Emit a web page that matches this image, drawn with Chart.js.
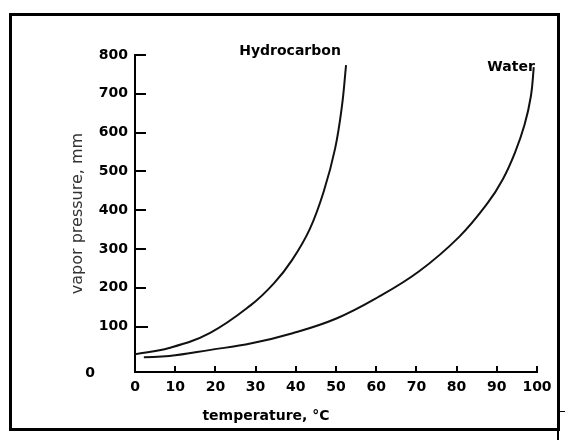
<!DOCTYPE html>
<html>
<head>
<meta charset="utf-8">
<script src="https://cdn.jsdelivr.net/npm/chart.js@4"></script>
<style>
  html, body { margin: 0; padding: 0; background: #fff; }
  #wrap { position: relative; width: 565px; height: 440px; overflow: hidden; }
  #frame { position: absolute; left: 9px; top: 13px; width: 551px; height: 418px;
           box-sizing: border-box; border: 3px solid #000; }
  #tail { position: absolute; left: 557px; top: 428px; width: 2px; height: 12px; background: #000; }
  #stub { position: absolute; left: 559px; top: 411px; width: 6px; height: 1px; background: #000; }
  canvas { position: absolute; left: 0; top: 0; }
</style>
</head>
<body>
<div id="wrap">
  <div id="frame"></div>
  <div id="tail"></div>
  <div id="stub"></div>
  <canvas id="vaporChart" width="565" height="440"></canvas>
</div>
<script>
// chart data
const hydroTemp = [0, 8.5, 18.7, 28.9, 34.6, 39.1, 43.5, 47, 49.8, 51.5, 52.5];
const hydroPressure = [29, 45, 84, 156, 212, 272, 352, 450, 560, 670, 774];
const waterTemp = [2.2, 8.5, 18.8, 29, 39.2, 50.1, 60.3, 70.6, 80.7, 87.7, 91.5, 94.5, 96.9, 98.5, 99.2];
const waterPressure = [21, 24, 40, 57, 83, 121, 175, 242, 332, 418, 480, 548, 620, 695, 769];
const xTicks = [0, 10, 20, 30, 40, 50, 60, 70, 80, 90, 100];
const yTicks = [0, 100, 200, 300, 400, 500, 600, 700, 800];
const seriesNames = ["Hydrocarbon", "Water"];
const xTitle = "temperature, \u00B0C";
const yTitle = "vapor pressure, mm";

const boldFont = "bold 14px 'DejaVu Sans'";

/**
 * Pairs two arrays into {x, y} points.
 */
function toPoints(xs, ys){
  return xs.map((x, i) => ({x: x, y: ys[i]}));
}

// draws inward ticks, the detached "0", the curve names and the x title
const extras = {
  id: "extras",
  afterDraw(chart){
    const ctx = chart.ctx;
    const xs = chart.scales.x;
    const ys = chart.scales.y;
    ctx.save();
    ctx.strokeStyle = "#000";
    ctx.lineWidth = 2;
    yTicks.forEach(v => {
      if(v == 0){return;}
      const py = Math.round(ys.getPixelForValue(v));
      ctx.beginPath();
      ctx.moveTo(xs.left, py);
      ctx.lineTo(xs.left + (v == 100 ? 13 : 11), py);
      ctx.stroke();
    });
    xTicks.forEach(v => {
      if(v == 0){return;}
      const px = Math.round(xs.getPixelForValue(v));
      ctx.beginPath();
      ctx.moveTo(px, ys.bottom);
      ctx.lineTo(px, ys.bottom - 6);
      ctx.stroke();
    });

    ctx.fillStyle = "#000";
    ctx.font = boldFont;
    ctx.textBaseline = "middle";
    ctx.textAlign = "center";
    ctx.fillText("0", 90, ys.bottom + 1);
    ctx.fillText(xTitle, 266, 416);

    const hMeta = chart.getDatasetMeta(0).data;
    const hEnd = hMeta[hMeta.length - 1];
    ctx.fillText(seriesNames[0], hEnd.x - 56, hEnd.y - 14);
    const wMeta = chart.getDatasetMeta(1).data;
    const wEnd = wMeta[wMeta.length - 1];
    ctx.textAlign = "right";
    ctx.fillText(seriesNames[1], wEnd.x + 1, wEnd.y);
    ctx.restore();
  }
};

const lineStyle = {
  borderColor: "#111",
  borderWidth: 2,
  pointRadius: 0,
  fill: false,
  tension: 0.4
};

new Chart(document.getElementById("vaporChart"), {
  type: "line",
  data: {
    datasets: [
      Object.assign({label: seriesNames[0], data: toPoints(hydroTemp, hydroPressure)}, lineStyle),
      Object.assign({label: seriesNames[1], data: toPoints(waterTemp, waterPressure)}, lineStyle)
    ]
  },
  options: {
    responsive: false,
    animation: false,
    events: [],
    layout: { padding: { left: 0, top: 55, right: 28, bottom: 0 } },
    plugins: { legend: { display: false }, tooltip: { enabled: false } },
    scales: {
      x: {
        type: "linear",
        min: 0,
        max: 100,
        afterBuildTicks: s => { s.ticks = xTicks.map(v => ({value: v})); },
        afterFit: s => { s.height = 68; },
        grid: { drawOnChartArea: false, drawTicks: false },
        border: { color: "#000", width: 2 },
        ticks: { color: "#000", font: { family: "'DejaVu Sans'", size: 14, weight: "bold" }, padding: 7, maxRotation: 0 },
        title: { display: false }
      },
      y: {
        min: -17,
        max: 800,
        afterBuildTicks: s => { s.ticks = yTicks.map(v => ({value: v})); },
        afterFit: s => { s.width = 135; },
        grid: { drawOnChartArea: false, drawTicks: false },
        border: { color: "#000", width: 2 },
        ticks: {
          color: "#000",
          font: { family: "'DejaVu Sans'", size: 14, weight: "bold" },
          padding: 7,
          callback: v => (v == 0 ? "" : v)
        },
        title: {
          display: true,
          text: yTitle,
          color: "#333",
          font: { family: "'DejaVu Sans'", size: 16 },
          padding: { top: 68, bottom: 0 }
        }
      }
    }
  },
  plugins: [extras]
});
</script>
</body>
</html>
